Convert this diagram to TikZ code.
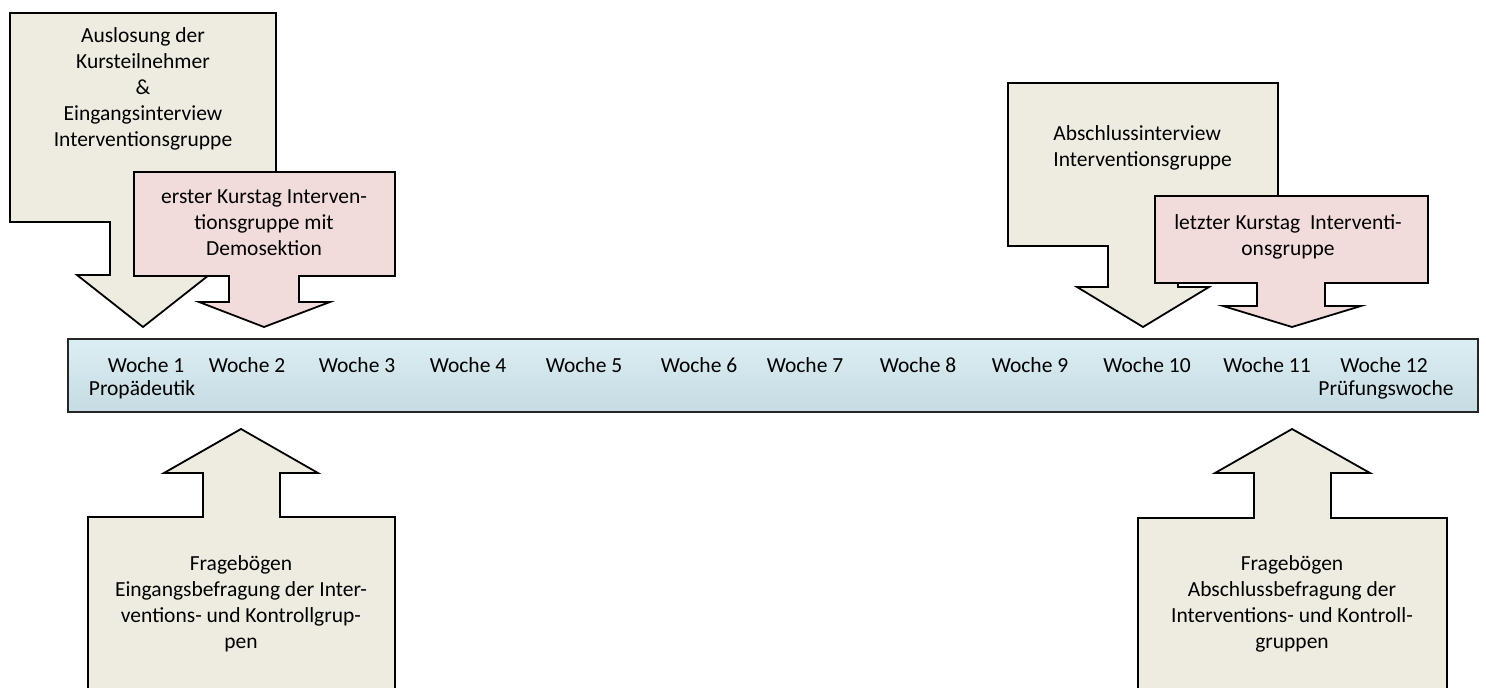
\documentclass[tikz,border=0pt]{standalone}
\usepackage{fontspec}
\setmainfont{Carlito}
\definecolor{tanfill}{HTML}{EEECE1}
\definecolor{rosefill}{HTML}{F2DCDB}
\definecolor{bartop}{HTML}{DBEEF4}
\definecolor{barbottom}{HTML}{C6DBE2}
\tikzset{
  callout/.style={draw=black, line width=0.9pt, line join=miter},
  tanbox/.style={callout, fill=tanfill},
  rosebox/.style={callout, fill=rosefill},
  lbl/.style={font=\fontsize{10.75}{13}\selectfont, align=center, inner sep=0pt},
  week/.style={font=\fontsize{10.75}{13}\selectfont, inner sep=0pt},
}
\begin{document}
\begin{tikzpicture}[x=0.5pt, y=-0.5pt]
\useasboundingbox (0,0) rectangle (1486,688);
\clip (0,0) rectangle (1486,688);

% --- upper left: draw + first course day
\draw[tanbox] (10,13) -- (276,13) -- (276,222) -- (176,222) -- (176,275) -- (209,275)
  -- (143,327) -- (77,275) -- (110,275) -- (110,222) -- (10,222) -- cycle;
\node[lbl] (draw) at (143,89) {Auslosung der\\Kursteilnehmer\\\&\\Eingangsinterview\\Interventionsgruppe};

\draw[rosebox] (134,172) -- (395,172) -- (395,276) -- (299,276) -- (299,302) -- (330,302)
  -- (264,327) -- (199,302) -- (229,302) -- (229,276) -- (134,276) -- cycle;
\node[lbl] (firstday) at (264,223) {erster Kurstag Interven-\\tionsgruppe mit\\Demosektion};

% --- upper right: final interview + last course day
\draw[tanbox] (1008,83) -- (1278,83) -- (1278,246) -- (1178,246) -- (1178,287) -- (1209,287)
  -- (1143,327) -- (1077,287) -- (1108,287) -- (1108,246) -- (1008,246) -- cycle;
\node[lbl, align=left, anchor=west] (finalint) at (1053,148) {Abschlussinterview\\Interventionsgruppe};

\draw[rosebox] (1155,196) -- (1428,196) -- (1428,283) -- (1325,283) -- (1325,306) -- (1361,306)
  -- (1292,327) -- (1223,306) -- (1257,306) -- (1257,283) -- (1155,283) -- cycle;
\node[lbl] (lastday) at (1288,237) {letzter Kurstag\ \ Interventi-\\onsgruppe};

% --- timeline bar
\node[draw=black!85, line width=0.9pt, top color=bartop, bottom color=barbottom,
  minimum width=705pt, minimum height=36.5pt, inner sep=0pt] (bar) at (773,375.5) {};
\node[week] (w1)  at (146,365)  {Woche 1};
\node[week] (w1b) at (142,390)  {Propädeutik};
\node[week] (w2)  at (247,365)  {Woche 2};
\node[week] (w3)  at (357,365)  {Woche 3};
\node[week] (w4)  at (468,365)  {Woche 4};
\node[week] (w5)  at (584,365)  {Woche 5};
\node[week] (w6)  at (699,365)  {Woche 6};
\node[week] (w7)  at (805,365)  {Woche 7};
\node[week] (w8)  at (918,365)  {Woche 8};
\node[week] (w9)  at (1030,365) {Woche 9};
\node[week] (w10) at (1147,365) {Woche 10};
\node[week] (w11) at (1267,365) {Woche 11};
\node[week] (w12) at (1384,365) {Woche 12};
\node[week] (w12b) at (1386,390) {Prüfungswoche};

% --- lower callouts: questionnaires
\draw[tanbox] (88,517) -- (203,517) -- (203,473) -- (164,473) -- (241,429) -- (318,473)
  -- (280,473) -- (280,517) -- (395,517) -- (395,700) -- (88,700) -- cycle;
\node[lbl] (qin) at (241,604) {Fragebögen\hspace{10pt}\\Eingangsbefragung der Inter-\\ventions- und Kontrollgrup-\\pen};

\draw[tanbox] (1138,518) -- (1254,518) -- (1254,473) -- (1215,473) -- (1292,429) -- (1370,473)
  -- (1331,473) -- (1331,518) -- (1447,518) -- (1447,700) -- (1138,700) -- cycle;
\node[lbl] (qout) at (1292,604) {Fragebögen\hspace{24pt}\\Abschlussbefragung der\\Interventions- und Kontroll-\\gruppen};
\end{tikzpicture}
\end{document}
